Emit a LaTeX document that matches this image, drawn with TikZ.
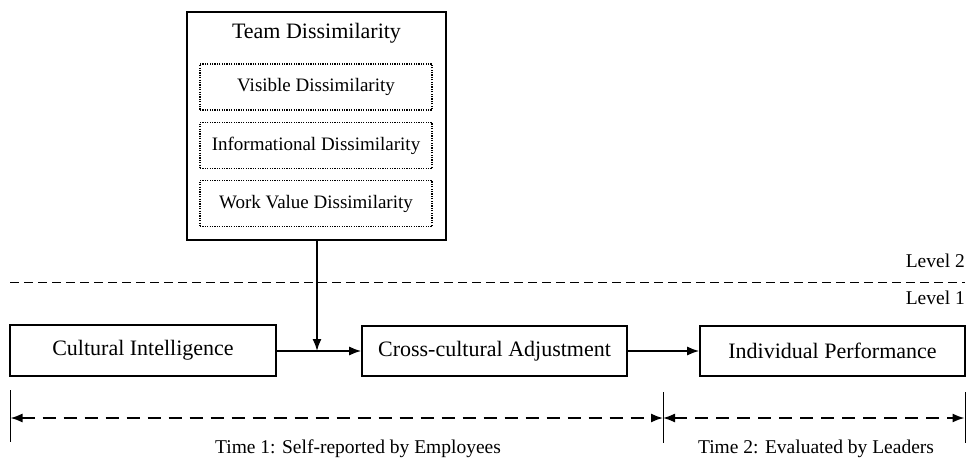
\documentclass[tikz,border=0pt]{standalone}
\usepackage{fontspec}
\setmainfont{Liberation Serif}
\usetikzlibrary{arrows.meta}
\begin{document}
\begin{tikzpicture}[x=1pt,y=-1pt,
  bigbox/.style={draw,line width=1.6pt,rectangle,inner sep=0pt,font=\fontsize{22}{26}\selectfont},
  dotbox/.style={draw,line width=1.3pt,dash pattern=on 1.2pt off 1.2pt,rectangle,inner sep=0pt,minimum width=232pt,minimum height=46pt,font=\fontsize{19}{22}\selectfont},
  lbl/.style={inner sep=0pt,font=\fontsize{19.5}{23}\selectfont},
  arr/.style={line width=1.6pt,-{Latex[length=12pt,width=9pt]}},
  darr/.style={line width=1.6pt,dash pattern=on 13pt off 8pt,{Latex[length=12pt,width=9pt]}-{Latex[length=12pt,width=9pt]}},
  tick/.style={line width=1pt}]
\useasboundingbox (0,0) rectangle (967,458);
% team box
\node[bigbox,minimum width=259pt,minimum height=228pt] (team) at (316.5,126) {};
\node[inner sep=0pt,font=\fontsize{22}{26}\selectfont] (title) at (316.5,33) {Team Dissimilarity};
\node[dotbox] (vis) at (316,87) {Visible Dissimilarity};
\node[dotbox] (inf) at (316,145.5) {Informational Dissimilarity};
\node[dotbox] (wv) at (316,203.5) {Work Value Dissimilarity};
% level line
\coordinate (la) at (10,282);
\coordinate (lb) at (965,282);
\draw[line width=1pt,dash pattern=on 9pt off 5pt] (la) -- (lb);
\node[lbl,anchor=east] (lv2) at (965,261) {Level 2};
\node[lbl,anchor=east] (lv1) at (965,298) {Level 1};
% level 1 boxes
\node[bigbox,minimum width=266pt,minimum height=51pt] (ci) at (143,350.5) {Cultural Intelligence};
\node[bigbox,minimum width=265pt,minimum height=50pt] (cc) at (494.5,351) {Cross-cultural Adjustment};
\node[bigbox,minimum width=265pt,minimum height=50pt] (ip) at (832.5,351) {Individual Performance};
\coordinate (m) at (317,351);
\draw[arr] (ci.east |- m) -- (cc.west |- m);
\draw[arr] (team.south -| m) -- (m);
\draw[arr] (cc.east) -- (ip.west);
% time axis
\coordinate (t0a) at (10,390);
\coordinate (t0b) at (10,442);
\coordinate (t1a) at (663,392);
\coordinate (t1b) at (663,443);
\coordinate (t2a) at (965,392);
\coordinate (t2b) at (965,443);
\draw[tick] (t0a) -- (t0b);
\draw[tick] (t1a) -- (t1b);
\draw[tick] (t2a) -- (t2b);
\coordinate (a0) at (10.5,418);
\coordinate (a1) at (663,418);
\coordinate (a2) at (964.5,418);
\draw[darr] (a0) -- (a1);
\draw[darr] (a1) -- (a2);
\node[lbl] (time1) at (358,449) {Time 1: Self-reported by Employees};
\node[lbl] (time2) at (816,449) {Time 2: Evaluated by Leaders};
\end{tikzpicture}
\end{document}
